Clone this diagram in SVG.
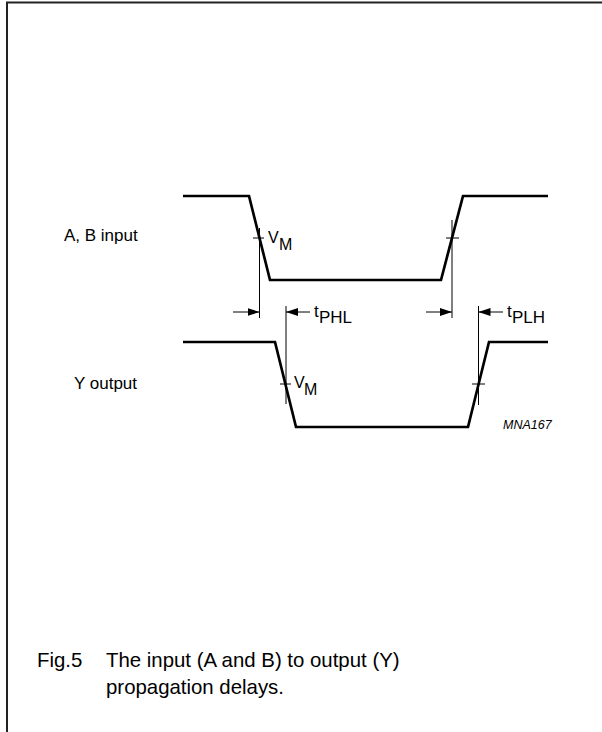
<svg xmlns="http://www.w3.org/2000/svg" width="602" height="732" viewBox="0 0 602 732">
<style>
text{font-family:"Liberation Sans",Arial,sans-serif;fill:#000}
.wave{fill:none;stroke:#000;stroke-width:2.7;stroke-linejoin:miter}
.thin{fill:none;stroke:#000;stroke-width:1}
.lbl{font-size:17px}
.cap{font-size:20.4px}
</style>
<defs>
<marker id="ah" viewBox="0 0 12 8" refX="12" refY="4" markerWidth="12" markerHeight="8" markerUnits="userSpaceOnUse" orient="auto">
<path d="M0,0 L12,4 L0,8 Z" fill="#000"/>
</marker>
</defs>
<rect width="602" height="732" fill="#fff"/>
<path d="M7,732 V2.5 H602" fill="none" stroke="#222" stroke-width="2"/>

<g id="input-wave">
<path class="wave" d="M183,196 H249 L270,280 H441 L463,196 H548"/>
<path class="thin" d="M259.5,228 V318 M253,238 H264"/>
<path class="thin" d="M452,220 V318 M446,238 H459"/>
<text class="lbl" x="64" y="241">A, B input</text>
<text x="268" y="243" font-size="16">V</text>
<text x="279" y="250" font-size="16">M</text>
</g>

<g id="output-wave">
<path class="wave" d="M183,342 H275 L296,427 H468 L489,342 H548"/>
<path class="thin" d="M286,306 V404 M280,384 H291"/>
<path class="thin" d="M478.5,306 V405 M472,384 H485"/>
<text class="lbl" x="74" y="389">Y output</text>
<text x="294" y="388" font-size="16">V</text>
<text x="304" y="395" font-size="16">M</text>
<text x="503" y="429" font-size="12.5" font-style="italic">MNA167</text>
</g>

<g id="connectors">
<line class="thin" x1="233" y1="312" x2="259.5" y2="312" marker-end="url(#ah)"/>
<line class="thin" x1="310" y1="312" x2="286" y2="312" marker-end="url(#ah)"/>
<line class="thin" x1="426" y1="312" x2="452" y2="312" marker-end="url(#ah)"/>
<line class="thin" x1="503" y1="312" x2="478.5" y2="312" marker-end="url(#ah)"/>
</g>

<g id="delay-labels">
<text x="314" y="317" font-size="17">t</text>
<text x="319" y="323" font-size="17">PHL</text>
<text x="507" y="317" font-size="17">t</text>
<text x="512" y="323" font-size="17">PLH</text>
</g>

<g id="caption">
<text class="cap" x="37" y="667">Fig.5</text>
<text class="cap" x="106" y="667">The input (A and B) to output (Y)</text>
<text class="cap" x="106" y="694">propagation delays.</text>
</g>
</svg>
